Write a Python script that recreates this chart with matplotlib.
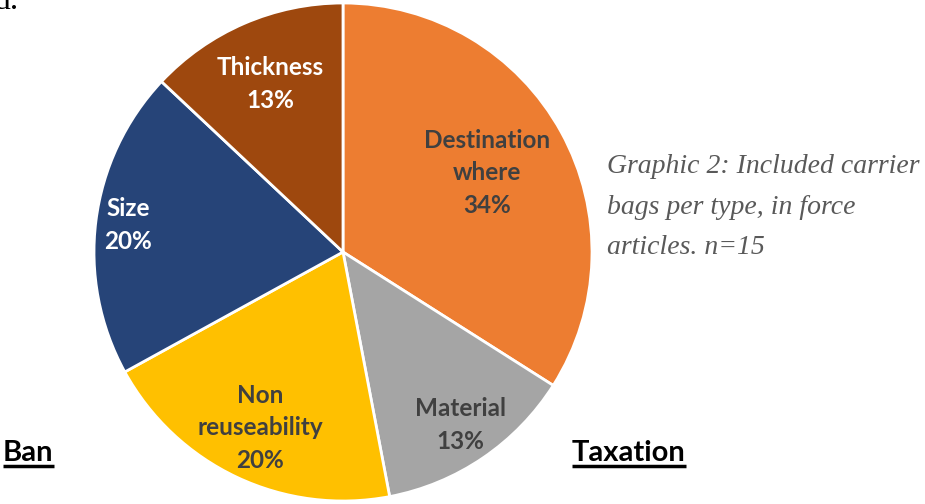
import numpy as np
import matplotlib.pyplot as plt

# share of carrier bag types in force articles (n=15)
categories = ['Destination\nwhere', 'Material', 'Non\nreuseability', 'Size', 'Thickness']
shares = [34, 13, 20, 20, 13]
slice_colors = ['#ED7D31', '#A5A5A5', '#FFC000', '#264478', '#9E480E']
label_colors = ['#404040', '#404040', '#404040', 'white', 'white']
label_radius = [0.66, 0.84, 0.78, 0.87, 0.735]

caption = 'Graphic 2: Included carrier\nbags per type, in force\narticles. n=15'

W, H = 925, 504
fig = plt.figure(figsize=(W / 100, H / 100), dpi=100)
ax = fig.add_axes([0, 0, 1, 1])

cx, cy, r = 343, H - 252, 249
wedges, _ = ax.pie(shares, colors=slice_colors, startangle=90, counterclock=False,
                   center=(cx, cy), radius=r,
                   wedgeprops=dict(edgecolor='white', linewidth=2))
ax.set_xlim(0, W)
ax.set_ylim(0, H)
ax.set_aspect('equal')
ax.axis('off')

for w, name, val, col, f in zip(wedges, categories, shares, label_colors, label_radius):
    mid = np.deg2rad((w.theta1 + w.theta2) / 2)
    ax.text(cx + f * r * np.cos(mid), cy + f * r * np.sin(mid), f'{name}\n{val}%',
            ha='center', va='center', color=col, fontsize=17.5, fontweight='bold',
            family='Lato', linespacing=1.5)

ax.text(607, H - 207, caption, ha='left', va='center', color='#595959',
        fontsize=20, style='italic', family='Liberation Serif', linespacing=1.8)

# section headings under the chart
fig.canvas.draw()
for x, word in [(3, 'Ban'), (572, 'Taxation')]:
    t = ax.text(x, H - 461, word, ha='left', va='baseline', color='black',
                fontsize=21, fontweight='bold', family='Lato')
    bb = t.get_window_extent(fig.canvas.get_renderer()).transformed(ax.transData.inverted())
    ax.plot([bb.x0, bb.x1], [H - 466, H - 466], color='black', lw=2.5,
            solid_capstyle='butt')

ax.text(-6, H - 9, 'd.', ha='left', va='baseline', color='black', fontsize=24,
        family='Liberation Serif')

fig.savefig('out.png', dpi=100)
